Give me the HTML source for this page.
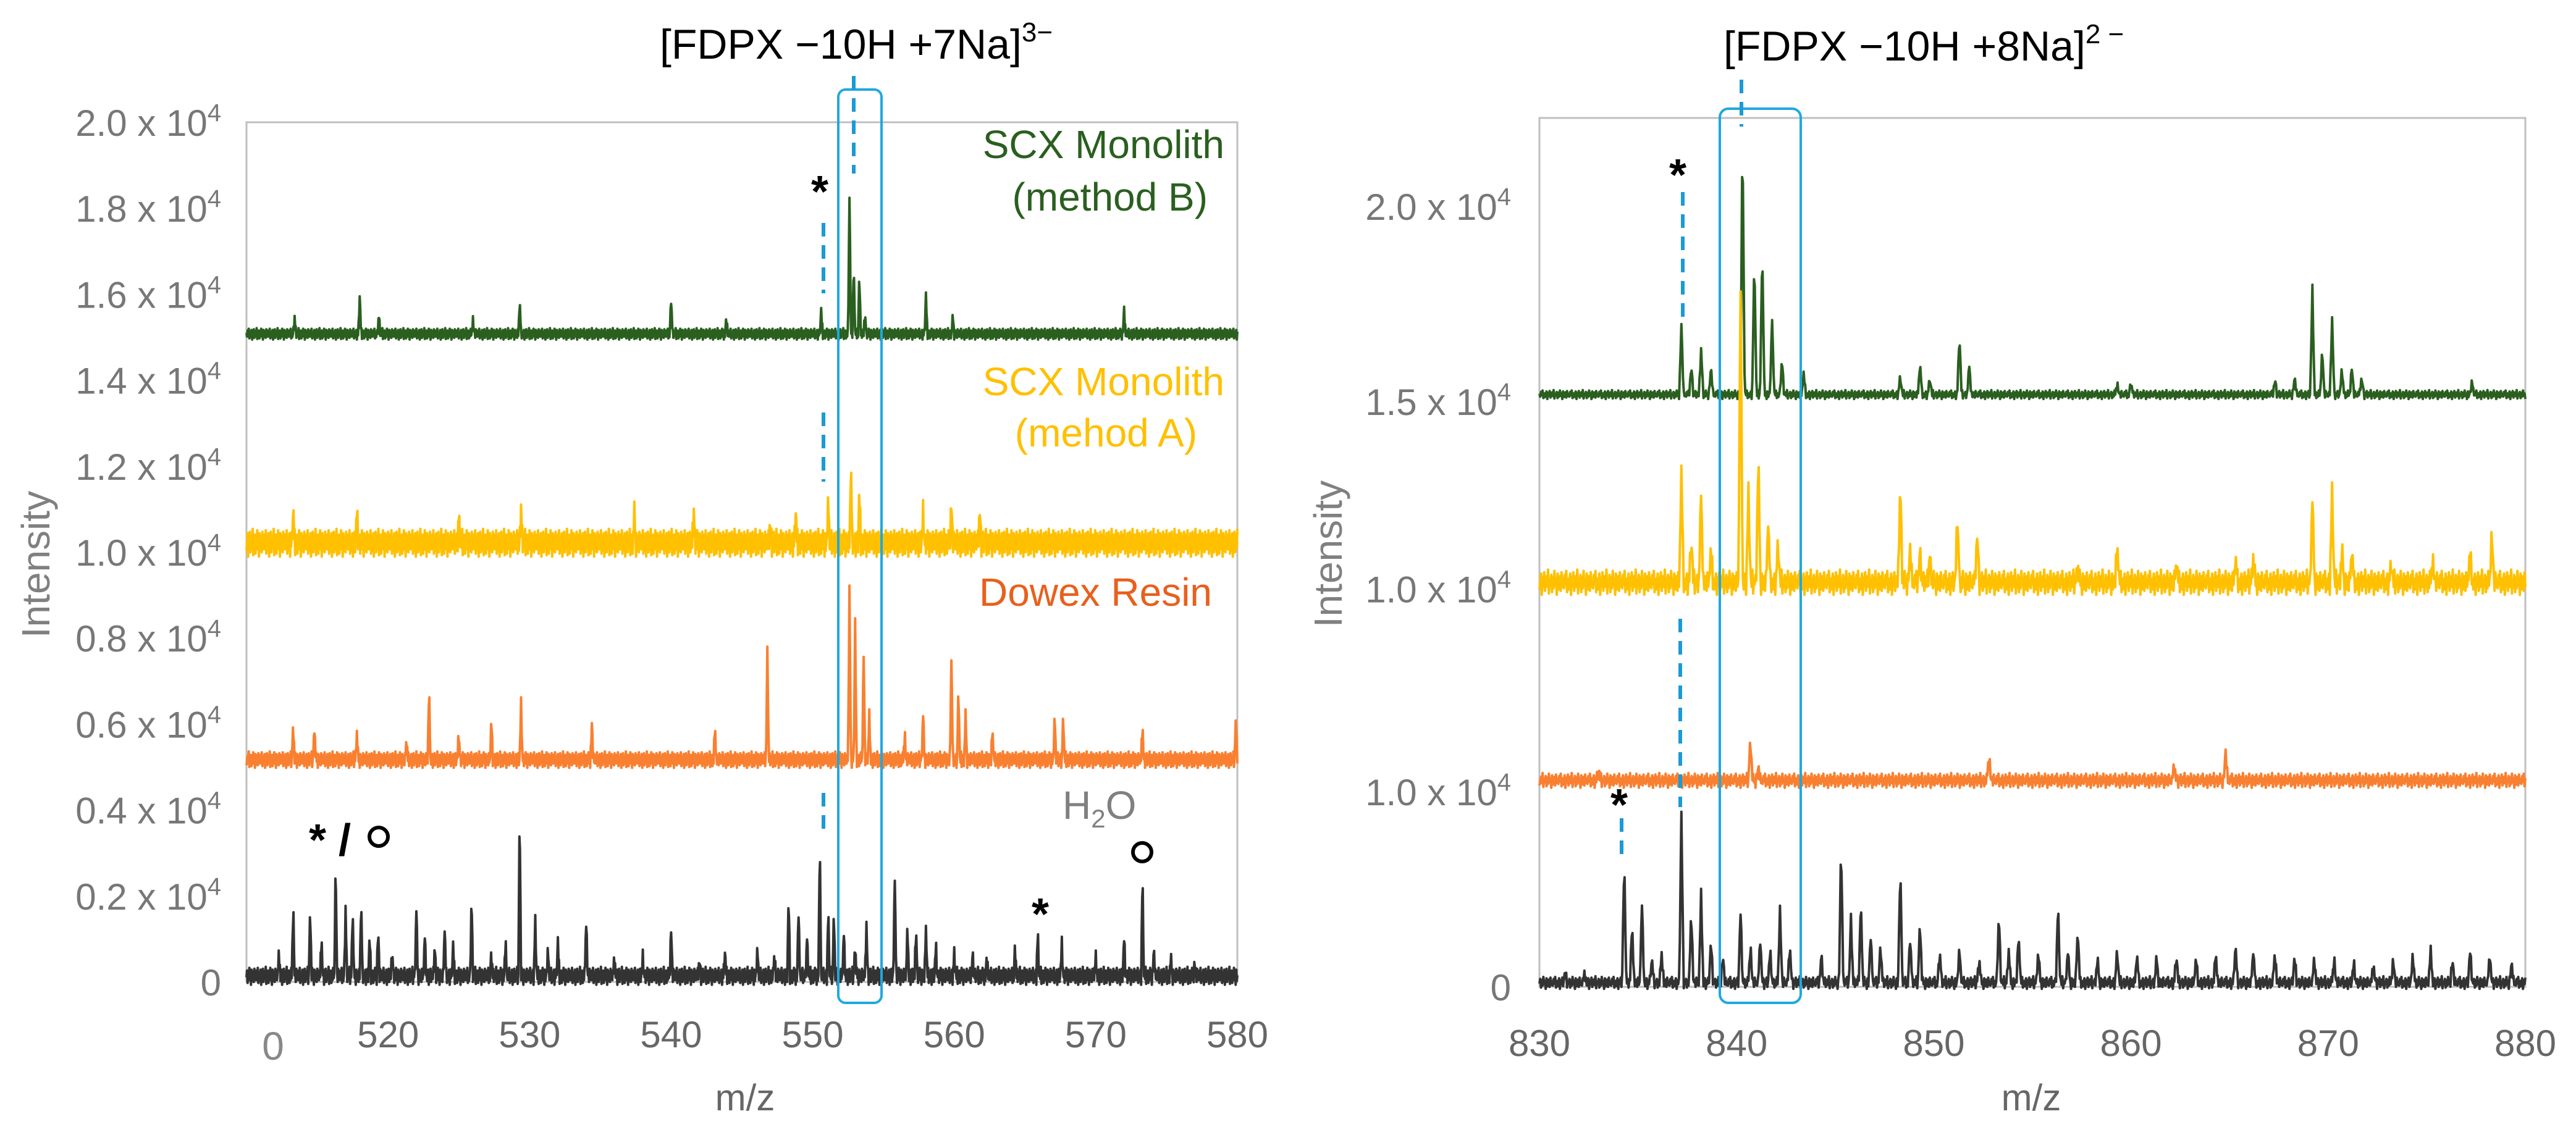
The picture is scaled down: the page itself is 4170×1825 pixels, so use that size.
<!DOCTYPE html>
<html><head><meta charset="utf-8"><style>
html,body{margin:0;padding:0;background:#fff}
svg{display:block}
text{font-family:"Liberation Sans",sans-serif}
</style></head><body>
<svg id="fig" width="4170" height="1825" viewBox="0 0 4170 1825" xmlns="http://www.w3.org/2000/svg">
<rect x="0" y="0" width="4170" height="1825" fill="#fff"/>
<g id="left"></g>
<g id="right"></g>
</svg>
<script>
// ---- shared noise pattern (hand-entered) ----
const noisePattern = [0.2,-0.4,0.6,-0.1,0.9,-0.7,0.3,-0.5,0.1,0.7,-0.9,0.4,-0.2,0.8,-0.6,0.0,0.5,-0.3,1.0,-0.8,0.2,-0.1,0.6,-0.7,0.4,-0.4,0.9,-0.2,0.3,-0.9,0.7,-0.5,0.1,0.5,-0.6,0.8,-0.3];

// ---- LEFT PANEL DATA ----
const leftXTicks = [520,530,540,550,560,570,580];
const leftYTickValues = [0,0.2,0.4,0.6,0.8,1.0,1.2,1.4,1.6,1.8,2.0];
const leftYTickLabels = ["0","0.2","0.4","0.6","0.8","1.0","1.2","1.4","1.6","1.8","2.0"];
const leftBaselines = [1.507,1.02,0.516,0.013];
const leftNoise = [0.014,0.034,0.02,0.022];
const leftGreenPeaks = [[513.4,0.037],[518.0,0.088],[519.35,0.045],[526.0,0.032],[529.3,0.074],[540.0,0.083],[543.9,0.034],[550.6,0.054],[552.6,0.33],[552.9,0.16],[553.3,0.14],[553.7,0.045],[558.0,0.09],[559.9,0.04],[572.0,0.057]];
const leftYellowPeaks = [[513.3,0.075],[517.8,0.07],[525.0,0.062],[529.4,0.077],[537.4,0.067],[541.6,0.074],[547.0,0.054],[548.8,0.07],[551.1,0.10],[552.7,0.18],[553.3,0.12],[557.8,0.067],[559.8,0.096],[561.8,0.083]];
const leftOrangePeaks = [[513.3,0.08],[514.8,0.076],[517.8,0.06],[521.3,0.047],[522.9,0.16],[525.0,0.06],[527.3,0.09],[529.4,0.126],[534.4,0.084],[543.1,0.077],[546.8,0.25],[552.6,0.40],[553.0,0.32],[553.6,0.25],[554.0,0.10],[556.5,0.064],[557.8,0.11],[559.8,0.24],[560.3,0.165],[560.8,0.10],[562.7,0.072],[567.1,0.10],[567.7,0.10],[573.3,0.08],[579.9,0.10]];
const leftBlackPeaks = [[512.3,0.05],[513.3,0.167],[514.5,0.155],[515.3,0.09],[516.3,0.265],[517.0,0.155],[517.5,0.155],[518.1,0.17],[518.7,0.09],[519.3,0.11],[520.3,0.05],[522.0,0.16],[522.6,0.09],[523.3,0.07],[524.0,0.113],[524.6,0.07],[525.9,0.185],[527.3,0.05],[528.3,0.08],[529.3,0.39],[530.4,0.125],[531.3,0.06],[532.0,0.08],[534.0,0.135],[536.0,0.04],[538.0,0.04],[540.0,0.113],[542.0,0.04],[543.8,0.055],[546.1,0.06],[547.3,0.05],[548.3,0.184],[549.0,0.15],[549.6,0.09],[550.5,0.31],[551.1,0.15],[551.5,0.15],[552.2,0.096],[553.0,0.07],[553.8,0.12],[555.8,0.24],[556.7,0.113],[557.3,0.113],[558.0,0.113],[558.7,0.07],[560.0,0.05],[561.3,0.05],[562.3,0.04],[564.3,0.07],[565.9,0.10],[567.6,0.07],[570.0,0.04],[572.0,0.088],[573.3,0.234],[574.1,0.06],[575.3,0.04],[577.0,0.03]];

// ---- RIGHT PANEL DATA ----
const rightXTicks = [830,840,850,860,870,880];
const rightYTickValues = [0,0.5,1.02,1.5,2.0];
const rightYTickLabels = ["0","1.0","1.0","1.5","2.0"];
const rightBaselines = [1.517,1.035,0.528,0.01];
const rightNoise = [0.012,0.034,0.02,0.017];
const rightGreenPeaks = [[837.2,0.18],[837.7,0.074],[838.2,0.117],[838.7,0.07],[840.3,0.67],[840.9,0.35],[841.3,0.38],[841.8,0.195],[842.3,0.09],[843.4,0.052],[848.3,0.046],[849.3,0.078],[849.8,0.04],[851.3,0.154],[851.8,0.074],[859.3,0.028],[860.0,0.028],[867.3,0.04],[868.3,0.043],[869.2,0.27],[869.7,0.115],[870.2,0.195],[870.7,0.065],[871.2,0.07],[871.7,0.046],[877.3,0.033]];
const rightYellowPeaks = [[837.2,0.28],[837.7,0.11],[838.2,0.23],[838.7,0.083],[840.2,0.75],[840.6,0.23],[841.1,0.325],[841.6,0.158],[842.1,0.10],[848.3,0.26],[848.8,0.083],[849.3,0.08],[849.8,0.07],[851.2,0.17],[852.2,0.13],[857.3,0.037],[859.3,0.10],[862.3,0.046],[865.3,0.056],[866.2,0.06],[869.2,0.22],[870.2,0.23],[870.7,0.083],[871.2,0.08],[873.2,0.046],[875.3,0.06],[877.2,0.075],[878.3,0.13]];
const rightOrangePeaks = [[833.0,0.024],[840.7,0.104],[841.1,0.033],[852.8,0.065],[862.2,0.037],[864.8,0.07]];
const rightBlackPeaks = [[831.3,0.02],[832.3,0.02],[834.3,0.31],[834.7,0.15],[835.2,0.20],[835.7,0.06],[836.2,0.074],[837.2,0.43],[837.7,0.187],[838.2,0.226],[838.7,0.106],[839.3,0.07],[840.2,0.18],[840.7,0.096],[841.2,0.11],[841.7,0.08],[842.2,0.186],[842.7,0.095],[844.3,0.07],[845.3,0.36],[845.8,0.165],[846.3,0.208],[846.8,0.12],[847.3,0.096],[848.3,0.295],[848.8,0.115],[849.3,0.156],[850.3,0.08],[851.3,0.087],[852.3,0.06],[853.3,0.176],[853.8,0.08],[854.3,0.124],[855.3,0.08],[856.3,0.20],[856.8,0.08],[857.3,0.137],[858.3,0.06],[859.3,0.083],[860.3,0.07],[861.3,0.065],[862.3,0.07],[863.3,0.06],[864.3,0.075],[865.3,0.096],[866.2,0.08],[867.3,0.08],[868.3,0.065],[869.3,0.06],[870.3,0.065],[871.3,0.05],[872.3,0.045],[873.3,0.06],[874.3,0.07],[875.2,0.08],[876.3,0.06],[877.2,0.08],[878.2,0.07],[879.3,0.05]];

const seriesColors = ["#2a5f1f","#ffc000","#f98030","#333333"];
const NS = "http://www.w3.org/2000/svg";
function mk(parent, tag, attrs){const e=document.createElementNS(NS,tag);for(const k in attrs)e.setAttribute(k,attrs[k]);parent.appendChild(e);return e;}

function drawPanel(g, cfg){
  const xs = v => cfg.x0 + (v - cfg.xmin)/(cfg.xmax-cfg.xmin)*(cfg.x1-cfg.x0);
  const ys = v => cfg.yZero - v*cfg.pxPerUnit;
  const fr = mk(g,'rect',{x:cfg.x0,y:cfg.yTop,width:cfg.x1-cfg.x0,height:cfg.yBot-cfg.yTop,fill:'none',stroke:'#bfbfbf','stroke-width':3});
  
  
  cfg.yVals.forEach((v,i)=>{
    const t = mk(g,'text',{x:cfg.yLabelX,y:ys(v)+cfg.yLabelDy,'text-anchor':'end','font-size':60,fill:'#777'});
    
    
    if(cfg.yLabels[i]==="0"){t.textContent="0";}
    else{
      t.appendChild(document.createTextNode(cfg.yLabels[i]+" x 10"));
      const s=mk(t,'tspan',{'font-size':40,dy:-24});s.textContent="4";
    }
  });
  cfg.xTicks.forEach(v=>{
    const t = mk(g,'text',{x:xs(v),y:cfg.xLabelY,'text-anchor':'middle','font-size':60,fill:'#666'});
    
    
    t.textContent=v;
  });
  const step = 0.04;
  cfg.series.forEach((peaks,si)=>{
    let pts=[]; let idx=si*7;
    const hw = cfg.hw;
    for(let m=cfg.xmin; m<=cfg.xmax+1e-9; m+=step){
      let v = cfg.base[si] + noisePattern[idx%noisePattern.length]*cfg.noise[si];
      idx++;
      for(const p of peaks){const d=Math.abs(m-p[0]); if(d<hw) v+=p[1]*(1-d/hw);}
      pts.push(xs(m).toFixed(1)+","+ys(v).toFixed(1));
    }
    const pl = mk(g,'polyline',{points:pts.join(" "),fill:'none',stroke:seriesColors[si],'stroke-width':4,'stroke-linejoin':'round'});
    
    
  });
}

drawPanel(document.getElementById('left'),{
  x0:399,x1:2003,xmin:510,xmax:580,yTop:198,yBot:1590,yZero:1590,pxPerUnit:696,
  yVals:leftYTickValues,yLabels:leftYTickLabels,yLabelX:358,yLabelDy:22,
  xTicks:leftXTicks,xLabelY:1696,hw:0.1,
  series:[leftGreenPeaks,leftYellowPeaks,leftOrangePeaks,leftBlackPeaks],
  base:leftBaselines,noise:leftNoise,
  names:['scx-method-b-spectrum','scx-method-a-spectrum','dowex-spectrum','h2o-spectrum']
});
drawPanel(document.getElementById('right'),{
  x0:2492,x1:4088,xmin:830,xmax:880,yTop:191,yBot:1598,yZero:1598,pxPerUnit:632,
  yVals:rightYTickValues,yLabels:rightYTickLabels,yLabelX:2446,yLabelDy:22,
  xTicks:rightXTicks,xLabelY:1710,hw:0.11,
  series:[rightGreenPeaks,rightYellowPeaks,rightOrangePeaks,rightBlackPeaks],
  base:rightBaselines,noise:rightNoise,
  names:['scx-method-b-spectrum','scx-method-a-spectrum','dowex-spectrum','h2o-spectrum']
});
</script>
<svg style="position:absolute;left:0;top:0" width="4170" height="1825" viewBox="0 0 4170 1825" xmlns="http://www.w3.org/2000/svg">
<text x="1068" y="95" font-size="68" fill="#000" font-family="Liberation Sans, sans-serif">[FDPX −10H +7Na]<tspan font-size="44" dy="-28">3−</tspan></text>
<rect x="1357" y="145" width="70" height="1479" rx="12" fill="none" stroke="#1fa8e0" stroke-width="4"/>
<g stroke="#1b9ad6" stroke-width="6" stroke-dasharray="22,14">
<line x1="1382" y1="123" x2="1382" y2="281"/>
<line x1="1333" y1="361" x2="1333" y2="475"/>
<line x1="1333" y1="668" x2="1333" y2="780"/>
<line x1="1333" y1="1284" x2="1333" y2="1354"/>
</g>
<text x="1327" y="335" font-size="72" font-weight="bold" text-anchor="middle" font-family="Liberation Sans, sans-serif">*</text>
<text x="1982" y="256" font-size="64" fill="#2a5f1f" text-anchor="end" font-family="Liberation Sans, sans-serif">SCX Monolith</text>
<text x="1955" y="341" font-size="64" fill="#2a5f1f" text-anchor="end" font-family="Liberation Sans, sans-serif">(method B)</text>
<text x="1982" y="640" font-size="64" fill="#ffc000" text-anchor="end" font-family="Liberation Sans, sans-serif">SCX Monolith</text>
<text x="1938" y="723" font-size="64" fill="#ffc000" text-anchor="end" font-family="Liberation Sans, sans-serif">(mehod A)</text>
<text x="1962" y="981" font-size="64" fill="#e8601c" text-anchor="end" font-family="Liberation Sans, sans-serif">Dowex Resin</text>
<text x="1720" y="1326" font-size="64" fill="#808080" font-family="Liberation Sans, sans-serif">H<tspan font-size="42" dy="14">2</tspan><tspan dy="-14">O</tspan></text>
<circle cx="1849" cy="1380" r="15" fill="none" stroke="#000" stroke-width="6"/>
<text x="1684" y="1505" font-size="72" font-weight="bold" text-anchor="middle" font-family="Liberation Sans, sans-serif">*</text>
<text x="500" y="1385" font-size="72" font-weight="bold" font-family="Liberation Sans, sans-serif">* /</text>
<circle cx="613" cy="1355" r="15" fill="none" stroke="#000" stroke-width="6"/>
<text x="80" y="914" font-size="64" fill="#808080" text-anchor="middle" transform="rotate(-90 80 914)" font-family="Liberation Sans, sans-serif">Intensity</text>
<text x="1206" y="1798" font-size="60" fill="#666" text-anchor="middle" font-family="Liberation Sans, sans-serif">m/z</text>
<text x="442" y="1716" font-size="64" fill="#888" text-anchor="middle" font-family="Liberation Sans, sans-serif">0</text>
<text x="2790" y="98" font-size="68" fill="#000" font-family="Liberation Sans, sans-serif">[FDPX −10H +8Na]<tspan font-size="44" dy="-28">2 −</tspan></text>
<rect x="2784" y="176" width="131" height="1448" rx="14" fill="none" stroke="#1fa8e0" stroke-width="4"/>
<g stroke="#1b9ad6" stroke-width="6" stroke-dasharray="22,14">
<line x1="2819" y1="129" x2="2819" y2="205"/>
<line x1="2724" y1="311" x2="2724" y2="516"/>
<line x1="2720" y1="1002" x2="2720" y2="1307"/>
<line x1="2625" y1="1325" x2="2625" y2="1383"/>
</g>
<text x="2716" y="308" font-size="72" font-weight="bold" text-anchor="middle" font-family="Liberation Sans, sans-serif">*</text>
<text x="2621" y="1328" font-size="72" font-weight="bold" text-anchor="middle" font-family="Liberation Sans, sans-serif">*</text>
<text x="2172" y="897" font-size="64" fill="#808080" text-anchor="middle" transform="rotate(-90 2172 897)" font-family="Liberation Sans, sans-serif">Intensity</text>
<text x="3288" y="1798" font-size="60" fill="#666" text-anchor="middle" font-family="Liberation Sans, sans-serif">m/z</text>
</svg>
</body></html>
